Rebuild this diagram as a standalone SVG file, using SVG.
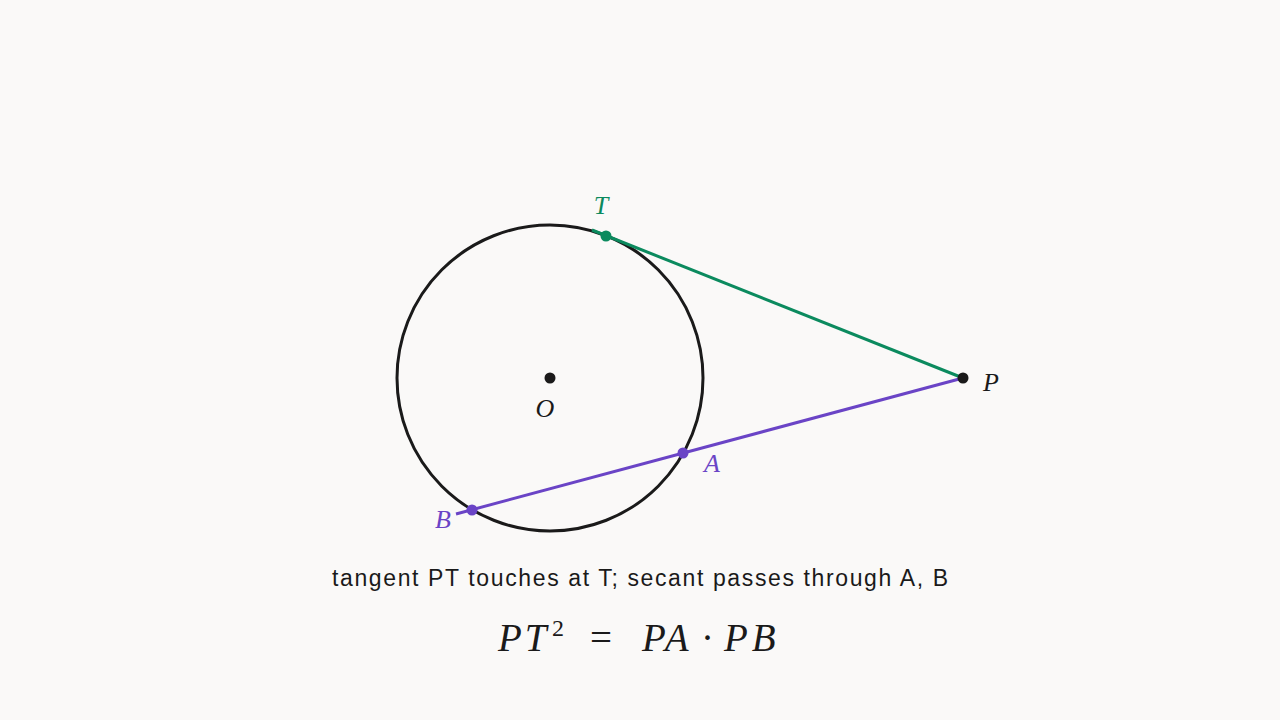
<svg xmlns="http://www.w3.org/2000/svg" width="1280" height="720" viewBox="0 0 1280 720">
<style>
.lbl{font-family:"Liberation Serif",serif;font-style:italic;font-size:26px}
.dot{stroke:none}
</style>
<rect width="1280" height="720" fill="#faf9f8"/>
<g id="circle"><circle cx="550" cy="378" r="153" fill="none" stroke="#1a1a1a" stroke-width="3"/></g>
<g id="connectors">
<line x1="592" y1="230" x2="963" y2="378" stroke="#0b8a5e" stroke-width="3"/>
<line x1="456" y1="514" x2="963" y2="378" stroke="#6a44c6" stroke-width="3"/>
</g>
<g id="O"><circle class="dot" cx="550" cy="378" r="5.5" fill="#1a1a1a"/><text class="lbl" x="545" y="417" text-anchor="middle" fill="#1a1a1a">O</text></g>
<g id="P"><circle class="dot" cx="963" cy="378" r="5.5" fill="#1a1a1a"/><text class="lbl" x="991" y="391" text-anchor="middle" fill="#1a1a1a">P</text></g>
<g id="T"><circle class="dot" cx="606" cy="236" r="5.5" fill="#0b8a5e"/><text class="lbl" x="601" y="214" text-anchor="middle" fill="#0b8a5e">T</text></g>
<g id="A"><circle class="dot" cx="683" cy="453" r="5.5" fill="#6a44c6"/><text class="lbl" x="712" y="472" text-anchor="middle" fill="#6a44c6">A</text></g>
<g id="B"><circle class="dot" cx="472" cy="510" r="5.5" fill="#6a44c6"/><text class="lbl" x="443" y="528" text-anchor="middle" fill="#6a44c6">B</text></g>
<text x="332" y="586" textLength="616" lengthAdjust="spacing" font-family="Liberation Sans,sans-serif" font-size="23" fill="#1a1a1a">tangent PT touches at T; secant passes through A, B</text>
<text font-family="Liberation Serif,serif" font-size="39" fill="#1a1a1a"><tspan x="498" y="651" font-style="italic" letter-spacing="3">PT</tspan><tspan x="552" y="636" font-size="24">2</tspan><tspan x="590" y="651">=</tspan><tspan x="642" y="651" font-style="italic" letter-spacing="4">PA</tspan><tspan x="701" y="651">·</tspan><tspan x="724" y="651" font-style="italic" letter-spacing="4">PB</tspan></text>
</svg>
